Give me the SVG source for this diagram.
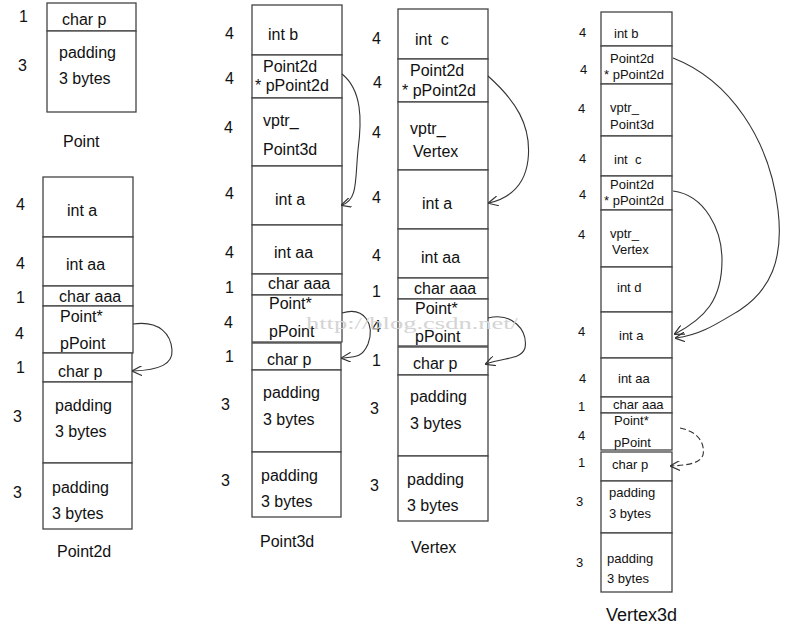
<svg xmlns="http://www.w3.org/2000/svg" width="808" height="629" viewBox="0 0 808 629">
<style>
.c{fill:#fff;stroke:#444;stroke-width:1.3}
.t{font-family:"Liberation Sans",Arial,sans-serif;font-size:16px;fill:#111}
.s{font-family:"Liberation Sans",Arial,sans-serif;font-size:13px;fill:#111}
.ti{font-family:"Liberation Sans",Arial,sans-serif;font-size:16px;fill:#111}
.w{font-family:"Liberation Serif","Times New Roman",serif;font-size:17px;fill:#d4d4d4}
.a{fill:none;stroke:#333;stroke-width:1.1}
.d{stroke-dasharray:6 3}
.pre{white-space:pre}
</style>
<defs>
<marker id="ah" viewBox="0 0 10 10" refX="9" refY="5" markerWidth="10" markerHeight="10" markerUnits="userSpaceOnUse" orient="auto">
<path d="M0,0 L10,5 L0,10" fill="none" stroke="#333" stroke-width="1.2"/>
</marker>
</defs>
<rect width="808" height="629" fill="#fff"/>

<g id="Point">
<rect class="c" x="47" y="3" width="89" height="28"/>
<rect class="c" x="47" y="31" width="89" height="81"/>
<text class="t" x="62" y="25">char p</text>
<text class="t" x="59" y="58">padding</text>
<text class="t" x="59" y="84">3 bytes</text>
<text class="t" x="19" y="22">1</text>
<text class="t" x="18" y="71">3</text>
<text class="ti" x="63" y="147">Point</text>
</g>

<g id="Point2d">
<rect class="c" x="43" y="177" width="90" height="60"/>
<rect class="c" x="43" y="237" width="90" height="49"/>
<rect class="c" x="43" y="286" width="90" height="20"/>
<rect class="c" x="43" y="306" width="90" height="47"/>
<rect class="c" x="43" y="353" width="89" height="29"/>
<rect class="c" x="43" y="382" width="89" height="81"/>
<rect class="c" x="43" y="463" width="89" height="66"/>
<text class="t" x="67" y="216">int a</text>
<text class="t" x="66" y="270">int aa</text>
<text class="t" x="59" y="302">char aaa</text>
<text class="t" x="60" y="322">Point*</text>
<text class="t" x="60" y="349">pPoint</text>
<text class="t" x="58" y="377">char p</text>
<text class="t" x="55" y="411">padding</text>
<text class="t" x="55" y="437">3 bytes</text>
<text class="t" x="52" y="493">padding</text>
<text class="t" x="52" y="519">3 bytes</text>
<text class="t" x="16" y="210">4</text>
<text class="t" x="16" y="269">4</text>
<text class="t" x="16" y="303">1</text>
<text class="t" x="15" y="339">4</text>
<text class="t" x="16" y="373">1</text>
<text class="t" x="13" y="422">3</text>
<text class="t" x="13" y="498">3</text>
<text class="ti" x="57" y="557">Point2d</text>
</g>

<g id="Point3d">
<rect class="c" x="252" y="5" width="90" height="50"/>
<rect class="c" x="252" y="55" width="90" height="43"/>
<rect class="c" x="252" y="98" width="90" height="68"/>
<rect class="c" x="252" y="166" width="90" height="59"/>
<rect class="c" x="252" y="225" width="90" height="49"/>
<rect class="c" x="252" y="274" width="90" height="21"/>
<rect class="c" x="252" y="295" width="90" height="47"/>
<rect class="c" x="252" y="343" width="89" height="27"/>
<rect class="c" x="252" y="370" width="89" height="82"/>
<rect class="c" x="252" y="452" width="89" height="65"/>
<text class="t" x="268" y="40">int b</text>
<text class="t" x="263" y="72">Point2d</text>
<text class="t" x="255" y="91">* pPoint2d</text>
<text class="t" x="263" y="126">vptr_</text>
<text class="t" x="263" y="155">Point3d</text>
<text class="t" x="275" y="205">int a</text>
<text class="t" x="274" y="258">int aa</text>
<text class="t" x="268" y="289">char aaa</text>
<text class="t" x="269" y="309">Point*</text>
<text class="t" x="269" y="337">pPoint</text>
<text class="t" x="267" y="365">char p</text>
<text class="t" x="263" y="398">padding</text>
<text class="t" x="263" y="425">3 bytes</text>
<text class="t" x="261" y="481">padding</text>
<text class="t" x="261" y="507">3 bytes</text>
<text class="t" x="225" y="39">4</text>
<text class="t" x="225" y="84">4</text>
<text class="t" x="224" y="133">4</text>
<text class="t" x="225" y="199">4</text>
<text class="t" x="225" y="258">4</text>
<text class="t" x="225" y="293">1</text>
<text class="t" x="224" y="328">4</text>
<text class="t" x="225" y="362">1</text>
<text class="t" x="221" y="410">3</text>
<text class="t" x="221" y="486">3</text>
<text class="ti" x="260" y="547">Point3d</text>
</g>

<g id="Vertex">
<rect class="c" x="398" y="9" width="90" height="50"/>
<rect class="c" x="398" y="59" width="90" height="43"/>
<rect class="c" x="398" y="102" width="90" height="68"/>
<rect class="c" x="398" y="170" width="90" height="59"/>
<rect class="c" x="398" y="229" width="90" height="49"/>
<rect class="c" x="398" y="278" width="90" height="21"/>
<rect class="c" x="398" y="299" width="90" height="47"/>
<rect class="c" x="398" y="347" width="90" height="28"/>
<rect class="c" x="398" y="375" width="90" height="81"/>
<rect class="c" x="398" y="456" width="90" height="65"/>
<text class="t pre" x="415" y="45">int  c</text>
<text class="t" x="410" y="76">Point2d</text>
<text class="t" x="402" y="96">* pPoint2d</text>
<text class="t" x="410" y="134">vptr_</text>
<text class="t" x="413" y="157">Vertex</text>
<text class="t" x="422" y="209">int a</text>
<text class="t" x="421" y="263">int aa</text>
<text class="t" x="414" y="294">char aaa</text>
<text class="t" x="415" y="314">Point*</text>
<text class="t" x="415" y="342">pPoint</text>
<text class="t" x="413" y="369">char p</text>
<text class="t" x="410" y="402">padding</text>
<text class="t" x="410" y="429">3 bytes</text>
<text class="t" x="407" y="485">padding</text>
<text class="t" x="407" y="511">3 bytes</text>
<text class="t" x="372" y="44">4</text>
<text class="t" x="373" y="88">4</text>
<text class="t" x="372" y="138">4</text>
<text class="t" x="372" y="203">4</text>
<text class="t" x="372" y="261">4</text>
<text class="t" x="372" y="297">1</text>
<text class="t" x="372" y="332">4</text>
<text class="t" x="372" y="366">1</text>
<text class="t" x="370" y="414">3</text>
<text class="t" x="370" y="491">3</text>
<text class="ti" x="411" y="553">Vertex</text>
</g>

<g id="Vertex3d">
<rect class="c" x="601" y="12" width="71" height="34"/>
<rect class="c" x="601" y="46" width="71" height="38"/>
<rect class="c" x="601" y="84" width="71" height="52"/>
<rect class="c" x="601" y="136" width="71" height="40"/>
<rect class="c" x="601" y="176" width="71" height="34"/>
<rect class="c" x="601" y="210" width="71" height="57"/>
<rect class="c" x="601" y="267" width="71" height="45"/>
<rect class="c" x="601" y="312" width="71" height="46"/>
<rect class="c" x="601" y="358" width="71" height="39"/>
<rect class="c" x="601" y="397" width="71" height="16"/>
<rect class="c" x="601" y="413" width="71" height="37"/>
<rect class="c" x="601" y="452" width="71" height="29"/>
<rect class="c" x="601" y="481" width="71" height="52"/>
<rect class="c" x="601" y="533" width="71" height="59"/>
<text class="s" x="614" y="38">int b</text>
<text class="s" x="610" y="63">Point2d</text>
<text class="s" x="604" y="79">* pPoint2d</text>
<text class="s" x="610" y="112">vptr_</text>
<text class="s" x="610" y="129">Point3d</text>
<text class="s pre" x="614" y="164">int  c</text>
<text class="s" x="610" y="189">Point2d</text>
<text class="s" x="604" y="205">* pPoint2d</text>
<text class="s" x="610" y="238">vptr_</text>
<text class="s" x="612" y="254">Vertex</text>
<text class="s" x="617" y="292">int d</text>
<text class="s" x="619" y="340">int a</text>
<text class="s" x="618" y="383">int aa</text>
<text class="s" x="613" y="409">char aaa</text>
<text class="s" x="614" y="425">Point*</text>
<text class="s" x="614" y="447">pPoint</text>
<text class="s" x="612" y="469">char p</text>
<text class="s" x="609" y="497">padding</text>
<text class="s" x="609" y="518">3 bytes</text>
<text class="s" x="607" y="563">padding</text>
<text class="s" x="607" y="583">3 bytes</text>
<text class="s" x="579" y="37">4</text>
<text class="s" x="580" y="74">4</text>
<text class="s" x="578" y="113">4</text>
<text class="s" x="579" y="163">4</text>
<text class="s" x="579" y="199">4</text>
<text class="s" x="578" y="239">4</text>
<text class="s" x="578" y="336">4</text>
<text class="s" x="579" y="383">4</text>
<text class="s" x="578" y="411">1</text>
<text class="s" x="578" y="440">4</text>
<text class="s" x="578" y="467">1</text>
<text class="s" x="576" y="506">3</text>
<text class="s" x="576" y="567">3</text>
<text class="ti" x="606" y="621" style="font-size:18px">Vertex3d</text>
</g>

<g id="connectors">
<path class="a" marker-end="url(#ah)" d="M133,324 C160,320 171,335 172,350 C173,364 160,370 133,371"/>
<path class="a" marker-end="url(#ah)" d="M342,74 C362,90 362,120 358,150 C355,180 358,200 342,205"/>
<path class="a" marker-end="url(#ah)" d="M342,313 C365,306 375,325 368,344 C362,358 355,357 342,358"/>
<path class="a" marker-end="url(#ah)" d="M488,76 C515,100 532,125 528,160 C525,185 510,198 489,203"/>
<path class="a" marker-end="url(#ah)" d="M488,318 C512,312 528,330 525,348 C521,360 505,357 486,364"/>
<path class="a" marker-end="url(#ah)" d="M673,58 C730,80 770,140 778,210 C784,260 770,290 740,310 C715,325 700,335 676,338"/>
<path class="a" marker-end="url(#ah)" d="M673,191 C705,195 722,230 722,260 C722,300 705,318 675,334"/>
<path class="a d" marker-end="url(#ah)" d="M680,428 C700,432 705,445 703,455 C700,463 690,465 671,466"/>
</g>

<text class="w" x="306" y="329" textLength="212" lengthAdjust="spacingAndGlyphs">http://blog.csdn.net/</text>
</svg>
